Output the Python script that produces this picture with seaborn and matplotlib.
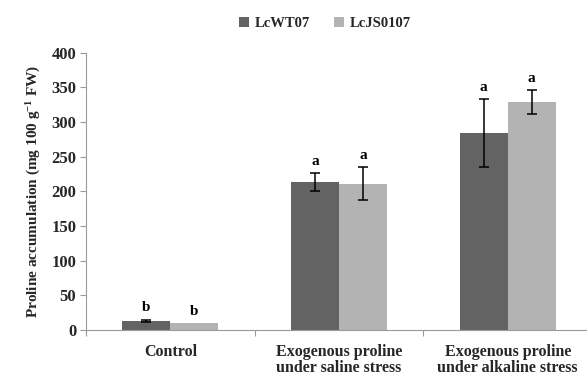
import numpy as np
import pandas as pd
import matplotlib
matplotlib.use("Agg")
import matplotlib.pyplot as plt
import seaborn as sns

categories = ["Control", "Exogenous proline\nunder saline stress", "Exogenous proline\nunder alkaline stress"]
lines = ["LcWT07", "LcJS0107"]
wt_mean = [13, 213, 284]
wt_err = [2, 13, 49]
js_mean = [9.5, 211, 329]
js_err = [0, 24, 17]
wt_letters = ["b", "a", "a"]
js_letters = ["b", "a", "a"]

df = pd.DataFrame({
    "treatment": categories * 2,
    "line": [lines[0]] * 3 + [lines[1]] * 3,
    "value": wt_mean + js_mean,
})
errs = {lines[0]: wt_err, lines[1]: js_err}
letters = {lines[0]: wt_letters, lines[1]: js_letters}

sns.set_theme(style="white")
plt.rcParams["font.family"] = ["Liberation Serif", "DejaVu Serif"]
plt.rcParams["font.weight"] = "bold"
plt.rcParams["mathtext.fontset"] = "custom"
plt.rcParams["mathtext.rm"] = "Liberation Serif:bold"
plt.rcParams["mathtext.bf"] = "Liberation Serif:bold"
plt.rcParams["mathtext.default"] = "bf"

fig = plt.figure(figsize=(5.87, 3.80), dpi=100)
ax = fig.add_axes([0.1465, 0.1316, 0.8535, 0.7297])

palette = {lines[0]: "#636363", lines[1]: "#b3b3b3"}
sns.barplot(data=df, x="treatment", y="value", hue="line", order=categories,
            hue_order=lines, palette=palette, width=0.57, saturation=1,
            errorbar=None, ax=ax, linewidth=0)

for cont, name in zip(ax.containers, lines):
    for i, p in enumerate(cont.patches):
        xc = p.get_x() + p.get_width() / 2
        h = p.get_height()
        e = errs[name][i]
        if e > 0:
            ax.errorbar(xc, h, yerr=e, fmt="none", ecolor="black",
                        elinewidth=1.1, capsize=3.5, capthick=1.1)
        ax.annotate(letters[name][i], (xc, h + e), xytext=(0, 4),
                    textcoords="offset points", ha="center", va="bottom",
                    fontsize=11, fontweight="bold", color="black")

ax.set_ylim(0, 400)
ax.set_xlim(-0.5, 2.47)
ax.set_yticks(np.arange(0, 401, 50))
ax.set_xlabel("")
ax.set_ylabel("Proline accumulation (mg 100 g$^{-1}$ FW)",
              fontsize=11, fontweight="bold", labelpad=6)

ax.set_xticks(range(3))
ax.set_xticklabels(categories, fontsize=11.5, fontweight="bold", linespacing=1.0)
ax.set_xticks([-0.5, 0.5, 1.5], minor=True)
ax.tick_params(axis="x", which="major", length=0, pad=10)
ax.tick_params(axis="x", which="minor", length=4, color="#999999", width=0.8,
               direction="out", bottom=True)
ax.tick_params(axis="y", length=4, color="#999999", width=0.8, direction="out",
               left=True, labelsize=12, pad=3)
for lab in ax.get_yticklabels():
    lab.set_fontweight("bold")

for s in ["top", "right"]:
    ax.spines[s].set_visible(False)
for s in ["left", "bottom"]:
    ax.spines[s].set_color("#9a9a9a")
    ax.spines[s].set_linewidth(0.8)

leg = ax.legend(loc="upper center", bbox_to_anchor=(0.477, 1.15), ncol=2,
                frameon=False, fontsize=10.5, handlelength=0.7, handleheight=0.7,
                handletextpad=0.4, columnspacing=1.6, borderaxespad=0)
for t in leg.get_texts():
    t.set_fontweight("bold")

fig.savefig("out.png", dpi=100)
